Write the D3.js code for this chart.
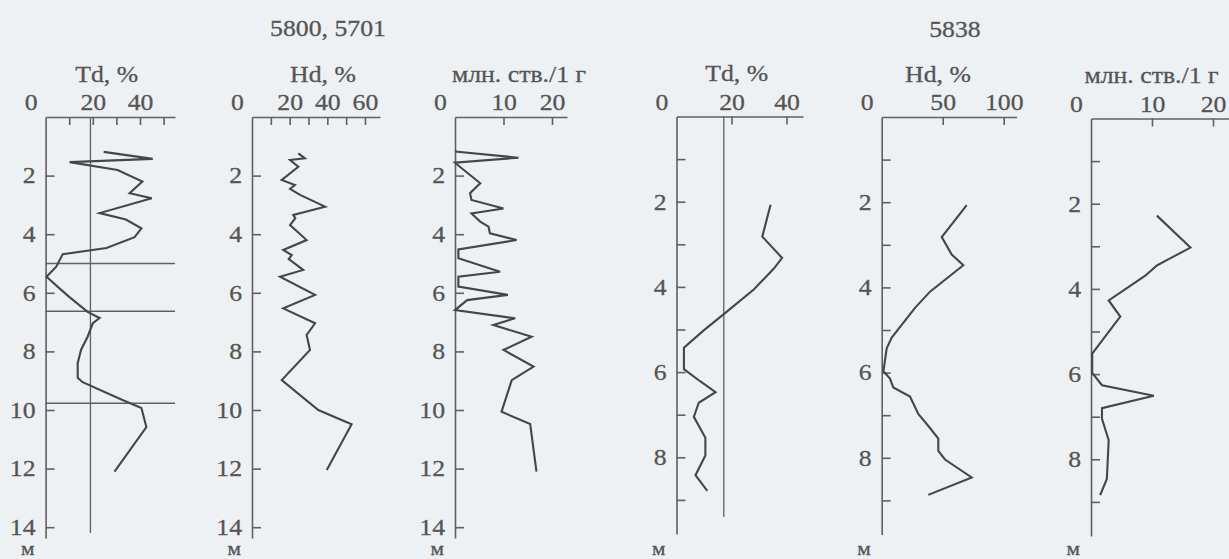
<!DOCTYPE html>
<html>
<head>
<meta charset="utf-8">
<script src="https://cdn.jsdelivr.net/npm/d3@7"></script>
<style>
  body { margin: 0; background: #eef1f4; }
  #chart { width: 1229px; height: 559px; }
  text { font-family: "Liberation Serif", serif; font-size: 23px; fill: #555; stroke: #555; stroke-width: 0.3px; }
  .wide { transform-box: fill-box; transform-origin: center; transform: scaleX(1.12); }
  .wide-r { transform-box: fill-box; transform-origin: right center; transform: scaleX(1.12); }
  .unit { font-size: 19px; }
</style>
</head>
<body>
<div id="chart"></div>
<script>
// borehole 5800, 5701 (depth in m, value)
var td5800Depth = [1.19, 1.43, 1.54, 1.81, 2.2, 2.6, 2.77, 3.28, 3.5, 3.8, 4.1, 4.47, 4.68, 5.0, 5.1, 5.45, 5.9, 6.14, 6.65, 6.86, 7.04, 7.5, 7.95, 8.4, 8.9, 9.05, 9.66, 9.93, 10.58, 12.1];
var td5800 = [24.6, 45.4, 10.2, 30.5, 41, 35.6, 45, 22.9, 34, 40.6, 37.7, 25.8, 7.3, 5.2, 4.6, 0.4, 6.6, 10, 17.8, 22.9, 20, 17.8, 15, 13.6, 13.6, 15.7, 32.6, 40.6, 42.7, 29.2];

var hd5800Depth = [1.24, 1.41, 1.47, 1.70, 2.15, 2.32, 2.45, 2.66, 3.06, 3.34, 3.45, 3.69, 4.2, 4.54, 4.71, 4.85, 5.22, 5.45, 6.07, 6.53, 7.04, 7.44, 7.95, 8.98, 10.0, 10.49, 12.05];
var hd5800 = [24.6, 28.1, 20.2, 24.6, 15.8, 22.8, 20.2, 25.5, 38.8, 21.9, 23, 20.2, 29, 16.6, 21.1, 19.5, 27.2, 14.9, 33.5, 16.6, 33.5, 29, 30.8, 15.8, 35.2, 52.9, 39.7];

var cnt5800Depth = [1.18, 1.39, 1.56, 1.7, 2.26, 2.6, 2.83, 3.12, 3.29, 3.57, 3.74, 3.97, 4.2, 4.52, 4.82, 5.28, 5.45, 5.79, 6.07, 6.25, 6.59, 6.87, 7.1, 7.5, 7.95, 8.52, 8.98, 10.06, 10.48, 12.1];
var cnt5800 = [0, 13.1, 0, 1.0, 5.2, 3.1, 3.4, 10, 3.4, 5.2, 6.9, 7.2, 12.7, 0.7, 0.7, 9.3, 0.7, 0.7, 10.9, 2.5, 0, 12.4, 7.9, 15.8, 10, 16.2, 11.7, 9.6, 15.5, 16.8];

// borehole 5838
var td5838Depth = [2.07, 2.82, 3.32, 3.57, 4.06, 4.64, 5.02, 5.43, 5.93, 6.22, 6.47, 6.72, 7.05, 7.54, 7.96, 8.42, 8.79];
var td5838 = [34.2, 31.2, 38.4, 35.4, 28.1, 17.2, 9.9, 2.7, 2.7, 8.7, 14.2, 8.1, 6.3, 10.5, 10.5, 6.9, 11.2];

var hd5838Depth = [2.07, 2.82, 3.23, 3.48, 4.1, 4.48, 5.18, 5.43, 5.97, 6.14, 6.35, 6.56, 6.97, 7.3, 7.55, 7.84, 8.04, 8.46, 8.87];
var hd5838 = [69.7, 49.2, 57.4, 66.9, 39.6, 27.3, 8.2, 4.1, 1.4, 6.8, 9.5, 23.2, 30, 39.6, 46.4, 46.4, 51.9, 73.8, 38.2];

var cnt5838Depth = [2.28, 3.03, 3.32, 3.45, 3.69, 4.27, 4.65, 5.52, 5.97, 6.26, 6.51, 6.8, 7.05, 7.55, 8.46, 8.84];
var cnt5838 = [10.8, 16.3, 12.5, 10.8, 8.9, 2.9, 4.8, 0.2, 0.2, 1.8, 10.3, 1.8, 1.8, 2.9, 2.6, 1.5];

// reference lines
var td5800Limit = 19;
var td5838Limit = 17.2;
var td5800Bounds = [5.0, 6.63, 9.77];

// labels
var groupTitles = ["5800, 5701", "5838"];
var panelTitles = ["Td, %", "Hd, %", "млн. ств./1 г", "Td, %", "Hd, %", "млн. ств./1 г"];
var depthUnit = "м";
var depthTicksA = [2, 4, 6, 8, 10, 12, 14];
var depthTicksB = [2, 4, 6, 8];
var depthMinorB = [1, 3, 5, 7, 9];

var svg = d3.select("#chart")
  .append("svg")
  .attr("width", 1229)
  .attr("height", 559);

// layout of each log column
var panels = [
  { depth: td5800Depth, value: td5800, x0: 45.6, perUnit: 2.36, xEnd: 175, y0: 117, perM: 29.3, depthEnd: 14.37,
    ticks: [10, 20, 30, 40, 50], labels: [0, 20, 40], major: depthTicksA, minor: [],
    tx: 106.7, ty: 82, vline: td5800Limit, vlineEnd: 14.2, hlines: td5800Bounds },
  { depth: hd5800Depth, value: hd5800, x0: 252, perUnit: 1.883, xEnd: 380, y0: 117, perM: 29.3, depthEnd: 14.37,
    ticks: [10, 20, 30, 40, 50, 60], labels: [0, 20, 40, 60], major: depthTicksA, minor: [],
    tx: 323, ty: 82 },
  { depth: cnt5800Depth, value: cnt5800, x0: 455, perUnit: 4.85, xEnd: 567, y0: 117, perM: 29.3, depthEnd: 14.37,
    ticks: [10, 20], labels: [0, 10, 20], major: depthTicksA, minor: [],
    tx: 519, ty: 82 },
  { depth: td5838Depth, value: td5838, x0: 676.5, perUnit: 2.75, xEnd: 803, y0: 116.5, perM: 42.6, depthEnd: 9.8,
    ticks: [20, 40], labels: [0, 20, 40], major: depthTicksB, minor: depthMinorB,
    tx: 736.7, ty: 81, vline: td5838Limit, vlineEnd: 9.4 },
  { depth: hd5838Depth, value: hd5838, x0: 881.7, perUnit: 1.22, xEnd: 1016.7, y0: 117, perM: 42.6, depthEnd: 9.8,
    ticks: [50, 100], labels: [0, 50, 100], major: depthTicksB, minor: depthMinorB,
    tx: 938, ty: 82 },
  { depth: cnt5838Depth, value: cnt5838, x0: 1091, perUnit: 6.1, xEnd: 1235, y0: 118.5, perM: 42.6, depthEnd: 9.8,
    ticks: [10, 20], labels: [0, 10, 20], major: depthTicksB, minor: depthMinorB,
    tx: 1151.5, ty: 83 }
];

var axisColor = "#5d6066";
var lineColor = "#43464b";

panels.forEach(function(p, i) {
  var xLinearScale = d3.scaleLinear()
    .domain([0, (p.xEnd - p.x0) / p.perUnit])
    .range([p.x0, p.xEnd]);
  var yLinearScale = d3.scaleLinear()
    .domain([0, p.depthEnd])
    .range([p.y0, p.y0 + p.depthEnd * p.perM]);

  var g = svg.append("g");

  // reference lines behind the curve
  if (p.vline !== undefined) {
    g.append("line")
      .attr("x1", xLinearScale(p.vline)).attr("x2", xLinearScale(p.vline))
      .attr("y1", yLinearScale(0)).attr("y2", yLinearScale(p.vlineEnd))
      .attr("stroke", axisColor).attr("stroke-width", 1.3);
  }
  (p.hlines || []).forEach(function(d) {
    g.append("line")
      .attr("x1", p.x0).attr("x2", p.xEnd)
      .attr("y1", yLinearScale(d)).attr("y2", yLinearScale(d))
      .attr("stroke", axisColor).attr("stroke-width", 1.3);
  });

  // top axis ticks
  g.append("g")
    .attr("transform", `translate(0, ${p.y0})`)
    .call(d3.axisTop(xLinearScale).tickValues(p.ticks).tickSizeInner(-8).tickSizeOuter(0).tickFormat(""));

  // top axis labels
  var topLabels = g.append("g")
    .attr("transform", `translate(0, ${p.y0})`)
    .call(d3.axisTop(xLinearScale).tickValues(p.labels).tickSize(0).tickPadding(7));
  topLabels.select(".domain").remove();
  topLabels.selectAll("text")
    .attr("class", "wide")
    .attr("x", function(d) { return d === 0 ? -15 : 0; });

  // depth axis
  var leftAxis = g.append("g")
    .attr("transform", `translate(${p.x0}, 0)`)
    .call(d3.axisLeft(yLinearScale).tickValues(p.major).tickSizeInner(-9).tickSizeOuter(0).tickPadding(10));
  leftAxis.selectAll("text").attr("class", "wide-r");

  if (p.minor.length) {
    var minorAxis = g.append("g")
      .attr("transform", `translate(${p.x0}, 0)`)
      .call(d3.axisLeft(yLinearScale).tickValues(p.minor).tickSizeInner(-9).tickSizeOuter(0).tickFormat(""));
    minorAxis.select(".domain").remove();
  }

  g.selectAll(".domain, .tick line")
    .attr("stroke", axisColor)
    .attr("stroke-width", 1.6);
  g.selectAll(".tick text")
    .attr("fill", "#555")
    .style("font-size", "23px")
    .style("font-family", "'Liberation Serif', serif");

  // the log curve
  var pts = d3.zip(p.depth, p.value);
  g.append("path")
    .datum(pts)
    .attr("fill", "none")
    .attr("stroke", lineColor)
    .attr("stroke-width", 2.1)
    .attr("d", d3.line()
      .x(function(d) { return xLinearScale(d[1]); })
      .y(function(d) { return yLinearScale(d[0]); }));

  // titles
  g.append("text")
    .attr("class", "wide")
    .attr("x", p.tx).attr("y", p.ty)
    .attr("text-anchor", "middle")
    .text(panelTitles[i]);

  g.append("text")
    .attr("class", "wide-r unit")
    .attr("x", p.x0 - 11).attr("y", 555)
    .attr("text-anchor", "end")
    .text(depthUnit);
});

svg.append("text")
  .attr("class", "wide")
  .attr("x", 328).attr("y", 36)
  .attr("text-anchor", "middle")
  .text(groupTitles[0]);

svg.append("text")
  .attr("class", "wide")
  .attr("x", 955).attr("y", 37)
  .attr("text-anchor", "middle")
  .text(groupTitles[1]);
</script>
</body>
</html>
